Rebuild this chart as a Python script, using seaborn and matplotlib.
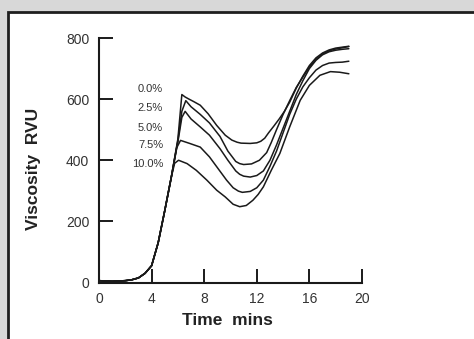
import seaborn as sns
import matplotlib.pyplot as plt
import pandas as pd
from matplotlib.patches import Rectangle

# shared heating ramp (all samples overlap here)
rise_t = [0, 0.5, 1, 1.5, 2, 2.5, 3, 3.5, 4, 4.5, 5, 5.5]
rise_v = [6, 5, 4, 5, 6, 9, 15, 30, 55, 130, 235, 345]

c00_t = rise_t + [6.0, 6.3, 6.55, 6.8, 7.2, 7.7, 8.3, 8.95, 9.6, 10.1, 10.5, 10.8, 11.5, 12.0, 12.3,
                  12.6, 12.9, 13.3, 13.7, 14.1, 14.5, 15.0, 15.5, 16.0, 16.5, 17.0, 17.5, 18.0,
                  18.5, 19.0]
c00_v = rise_v + [470, 615, 607, 601, 592, 580, 552, 514, 482, 466, 459, 456, 455, 457, 462,
                  472, 490, 512, 535, 560, 590, 636, 675, 710, 735, 751, 761, 767, 770, 773]

c25_t = rise_t + [6.0, 6.3, 6.6, 7.0, 7.7, 8.4, 9.2, 9.8, 10.4, 10.7, 11.0, 11.6, 12.2, 12.75,
                  13.1, 13.5, 14.0, 14.5, 15.0, 15.5, 16.0, 16.5, 17.0, 17.5, 18.0, 18.5, 19.0]
c25_v = rise_v + [465, 560, 595, 575, 550, 522, 478, 430, 396, 389, 386, 388, 400, 425,
                  458, 500, 550, 595, 638, 672, 705, 730, 748, 758, 764, 768, 772]

c50_t = rise_t + [6.0, 6.3, 6.55, 7.0, 7.7, 8.4, 9.2, 9.8, 10.4, 10.7, 11.0, 11.5, 12.0, 12.5,
                  13.0, 13.5, 14.0, 14.5, 15.0, 15.5, 16.0, 16.5, 17.0, 17.5, 18.0, 18.5, 19.0]
c50_v = rise_v + [460, 540, 560, 535, 509, 482, 438, 400, 365, 354, 348, 345, 350, 365,
                  400, 450, 505, 560, 615, 660, 700, 727, 745, 755, 760, 763, 765]

c75_t = rise_t + [5.9, 6.2, 6.9, 7.7, 8.4, 9.05, 9.7, 10.2, 10.6, 10.9, 11.5, 12.0, 12.5, 13.0,
                  13.5, 14.0, 14.5, 15.0, 15.5, 16.0, 16.5, 17.0, 17.5, 18.0, 18.5, 19.0]
c75_v = rise_v + [440, 465, 455, 443, 411, 373, 335, 310, 299, 295, 298, 310, 335, 380,
                  430, 490, 550, 600, 640, 670, 695, 710, 718, 720, 721, 724]

c100_t = rise_t + [5.75, 6.05, 6.7, 7.4, 8.2, 8.95, 9.6, 10.2, 10.7, 11.2, 11.7, 12.1, 12.5, 13.1,
                   13.75, 14.5, 15.3, 16.0, 16.8, 17.6, 18.3, 19.0]
c100_v = rise_v + [390, 400, 389, 367, 335, 302, 280, 256, 248, 252, 269, 288, 313, 367,
                   422, 509, 596, 645, 678, 690, 688, 683]

labels = ["0.0%", "2.5%", "5.0%", "7.5%", "10.0%"]
label_y = [633, 571, 506, 451, 389]
series = [(c00_t, c00_v), (c25_t, c25_v), (c50_t, c50_v), (c75_t, c75_v), (c100_t, c100_v)]

rows = []
for lab, (ts, vs) in zip(labels, series):
    for t, v in zip(ts, vs):
        rows.append({"time": t, "visc": v, "conc": lab})
df = pd.DataFrame(rows)

sns.set_style("white")
plt.rcParams['font.family'] = ['Liberation Sans', 'DejaVu Sans']

fig = plt.figure(figsize=(4.74, 3.39), dpi=100, facecolor='#d8d8d8')
fig.patches.append(Rectangle((8 / 474, -0.05), 1.0, (339 - 12) / 339 + 0.05,
                             transform=fig.transFigure, facecolor='white',
                             edgecolor='#1e1e1e', lw=2, zorder=-5))
ax = fig.add_axes([99 / 474, 1 - 282.5 / 339, 263 / 474, 244.5 / 339])
ax.set_facecolor('none')

sns.lineplot(data=df, x="time", y="visc", hue="conc", units="conc", estimator=None,
             palette=["#1a1a1a"] * 5, linewidth=1.1, legend=False, sort=False, ax=ax)

for lab, y in zip(labels, label_y):
    ax.text(4.87, y, lab, ha='right', va='center', fontsize=8, color='#333333')

ax.set_xlim(0, 20)
ax.set_ylim(0, 800)
ax.set_xticks([0, 4, 8, 12, 16, 20])
ax.set_yticks([0, 200, 400, 600, 800])
sns.despine(ax=ax)
for s in ['left', 'bottom']:
    ax.spines[s].set_linewidth(1.5)
    ax.spines[s].set_color('#1a1a1a')
ax.tick_params(bottom=True, left=True, direction='in', length=10, width=1.4, color='#1a1a1a',
               labelsize=10, labelcolor='#333333')
ax.tick_params(axis='x', pad=7)
ax.tick_params(axis='y', pad=7)

ax.set_xlabel("Time  mins", fontsize=12.5, fontweight='bold', color='#222222')
ax.set_ylabel("Viscosity  RVU", fontsize=12.5, fontweight='bold', color='#222222')
ax.xaxis.set_label_coords(0.49, -0.125)
ax.yaxis.set_label_coords(-0.22, 0.466)

fig.savefig("out.png", dpi=100, facecolor=fig.get_facecolor())
